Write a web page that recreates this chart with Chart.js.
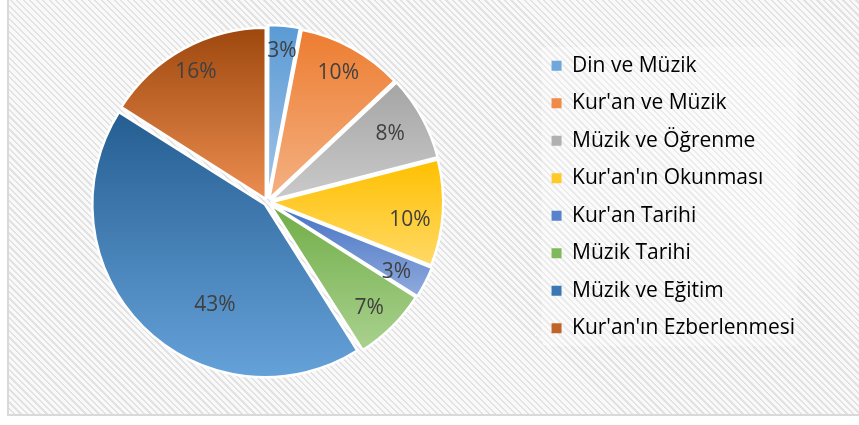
<!DOCTYPE html>
<html>
<head>
  <meta charset="UTF-8">
  <title>Pasta grafiği</title>
  <script src="https://cdn.jsdelivr.net/npm/chart.js"></script>
  <style>
    html, body {
      margin: 0;
      padding: 0;
      width: 859px;
      height: 425px;
      overflow: hidden;
      background: #fff;
    }

    .frame {
      position: absolute;
      left: 7px;
      top: -4px;
      width: 880px;
      height: 420px;
      border: 2px solid #d9d9d9;
      box-sizing: border-box;
      background: repeating-linear-gradient(45deg, #f9f9f9 0px, #f9f9f9 3px, #e2e2e2 3px, #e2e2e2 4.6px);
    }

    .wrap {
      position: absolute;
      left: 0;
      top: 0;
      width: 859px;
      height: 425px;
    }
  </style>
</head>
<body>
  <div class="frame"></div>
  <div class="wrap">
    <canvas id="pie"></canvas>
  </div>

  <script>
    const categories = ["Din ve Müzik", "Kur'an ve Müzik", "Müzik ve Öğrenme", "Kur'an'ın Okunması",
                        "Kur'an Tarihi", "Müzik Tarihi", "Müzik ve Eğitim", "Kur'an'ın Ezberlenmesi"];
    const shares = [3, 10, 8, 10, 3, 7, 43, 16];

    // gradient ends (top -> bottom of each slice)
    const topColors = ["#5B9BD5", "#ED7D31", "#A5A5A5", "#FFC000", "#4472C4", "#70AD47", "#255E91", "#9E480E"];
    const bottomColors = ["#A3C4E8", "#F4B183", "#CACACA", "#FFD966", "#8FAADC", "#A9D18E", "#65A1D9", "#EC8D50"];
    const legendColors = ["#6FA6DB", "#EF8A48", "#B0B0B0", "#FFC928", "#5A82CC", "#80B85E", "#3B77B2", "#C0652A"];

    // where the % label sits: fraction of the slice angle, fraction of the radius
    const labelAngle = [0.5, 0.5, 0.5, 0.6, 0.65, 0.55, 0.38, 0.5];
    const labelRadius = [0.87, 0.84, 0.80, 0.82, 0.84, 0.84, 0.66, 0.85];

    const LEGEND_PAD = 16.5;
    const LEGEND_LIFT = 5;

    function sliceBounds(arc) {
      const a0 = arc.startAngle, a1 = arc.endAngle, r = arc.outerRadius;
      const ys = [arc.y, arc.y + Math.sin(a0) * r, arc.y + Math.sin(a1) * r];
      [-Math.PI / 2, Math.PI / 2, 3 * Math.PI / 2].forEach(a => {
        if (a > a0 && a < a1) ys.push(arc.y + Math.sin(a) * r);
      });
      return [Math.min(...ys), Math.max(...ys)];
    }

    const gradientFill = {
      id: 'gradientFill',
      beforeDatasetsDraw(chart) {
        const ctx = chart.ctx;
        chart.getDatasetMeta(0).data.forEach((arc, i) => {
          const [y0, y1] = sliceBounds(arc);
          const g = ctx.createLinearGradient(0, y0, 0, y1);
          g.addColorStop(0, topColors[i]);
          g.addColorStop(1, bottomColors[i]);
          arc.options.backgroundColor = g;
        });
      }
    };

    // legend sits a little higher than the pie centre in the original
    const legendLift = {
      id: 'legendLift',
      afterLayout(chart) {
        chart.legend.top -= LEGEND_LIFT;
        chart.legend.bottom -= LEGEND_LIFT;
      }
    };

    const legendBack = {
      id: 'legendBack',
      beforeDraw(chart) {
        const lg = chart.legend;
        const ctx = chart.ctx;
        const cy = (lg.top + lg.bottom) / 2;
        const bx = lg.left + LEGEND_PAD;
        ctx.save();
        ctx.fillStyle = 'rgba(255,255,255,0.3)';
        ctx.fillRect(bx - 10, cy - 150, 256, 299);
        ctx.restore();
      }
    };

    const pctLabels = {
      id: 'pctLabels',
      afterDatasetsDraw(chart) {
        const ctx = chart.ctx;
        const total = shares.reduce((a, b) => a + b, 0);
        ctx.save();
        ctx.font = '21px "Open Sans"';
        ctx.fillStyle = '#404040';
        ctx.textAlign = 'center';
        ctx.textBaseline = 'middle';
        chart.getDatasetMeta(0).data.forEach((arc, i) => {
          const mid = (arc.startAngle + arc.endAngle) / 2;
          const off = (arc.options.offset || 0) / 4;
          const a = arc.startAngle + (arc.endAngle - arc.startAngle) * labelAngle[i];
          const r = arc.outerRadius * labelRadius[i];
          const x = arc.x + Math.cos(mid) * off + Math.cos(a) * r;
          const y = arc.y + Math.sin(mid) * off + Math.sin(a) * r;
          ctx.fillText(Math.round(shares[i] / total * 100) + '%', x, y);
        });
        ctx.restore();
      }
    };

    const ctx = document.getElementById('pie').getContext('2d');
    new Chart(ctx, {
      type: 'pie',
      data: {
        labels: categories,
        datasets: [{
          data: shares,
          backgroundColor: topColors,
          borderColor: '#ffffff',
          borderWidth: 2.5,
          offset: 14
        }]
      },
      options: {
        responsive: true,
        maintainAspectRatio: false,
        animation: false,
        layout: {
          padding: { left: -7, top: 23, bottom: 44, right: 54 }
        },
        plugins: {
          tooltip: { enabled: false },
          legend: {
            position: 'right',
            labels: {
              boxWidth: 10,
              boxHeight: 10,
              padding: LEGEND_PAD,
              color: '#595959',
              font: { family: 'Open Sans', size: 21 },
              generateLabels(chart) {
                return categories.map((c, i) => ({
                  text: c,
                  fillStyle: legendColors[i],
                  strokeStyle: legendColors[i],
                  lineWidth: 0,
                  hidden: false,
                  index: i
                }));
              }
            }
          }
        }
      },
      plugins: [legendLift, legendBack, gradientFill, pctLabels]
    });
  </script>
</body>
</html>
